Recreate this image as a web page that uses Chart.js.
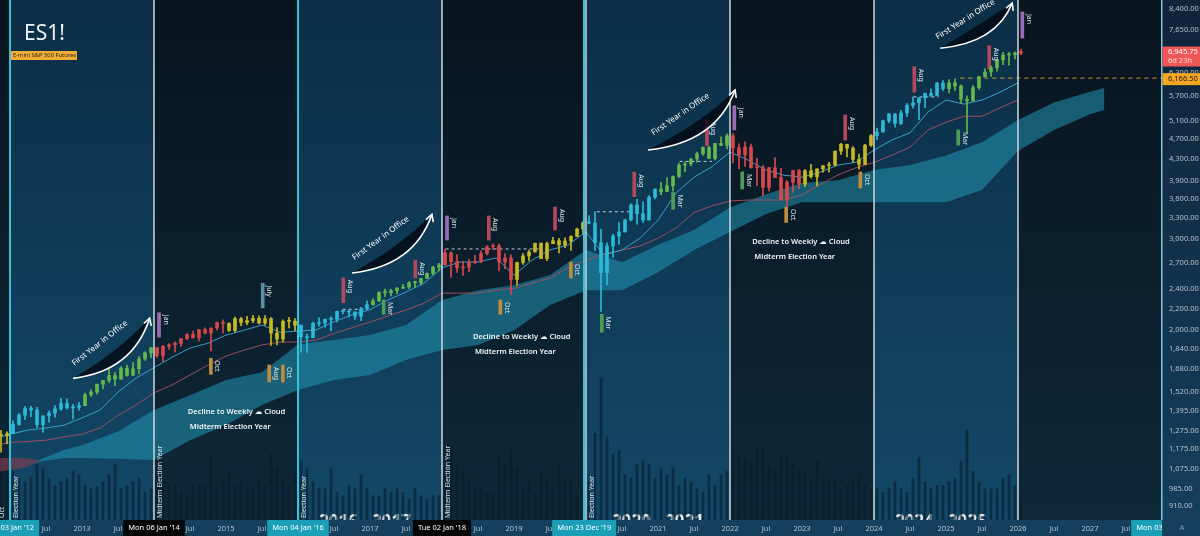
<!DOCTYPE html>
<html>
<head>
<meta charset="utf-8">
<title>ES1! presidential cycle</title>
<script src="https://cdn.jsdelivr.net/npm/chart.js@4.4.1/dist/chart.umd.min.js"></script>
<style>
  html, body { margin: 0; padding: 0; background: #0b1a27; overflow: hidden; }
  canvas { display: block; }
</style>
</head>
<body>
<canvas id="chart" width="1200" height="536"></canvas>
<script>
// monthly candles, Nov 2011 .. Jan 2026 (open = previous close)
const firstOpen = 1251;
const closes = [
  1247, 1258,
  1312, 1366, 1408, 1398, 1310, 1362, 1379, 1406, 1441, 1412, 1416, 1426,
  1498, 1515, 1569, 1597, 1631, 1606, 1686, 1633, 1682, 1757, 1806, 1848,
  1783, 1859, 1872, 1884, 1924, 1960, 1931, 2003, 1972, 2018, 2067, 2059,
  1995, 2104, 2068, 2086, 2107, 2063, 2104, 1972, 1920, 2079, 2080, 2044,
  1940, 1932, 2060, 2065, 2097, 2099, 2174, 2171, 2168, 2126, 2199, 2239,
  2279, 2364, 2363, 2384, 2412, 2423, 2470, 2471, 2519, 2575, 2648, 2674,
  2824, 2714, 2641, 2648, 2705, 2718, 2816, 2902, 2914, 2712, 2760, 2507,
  2704, 2785, 2834, 2946, 2752, 2942, 2982, 2926, 2977, 3038, 3141, 3231,
  3226, 2954, 2585, 2912, 3044, 3100, 3271, 3500, 3363, 3270, 3621, 3756,
  3714, 3811, 3972, 4181, 4204, 4297, 4395, 4523, 4308, 4605, 4567, 4766,
  4516, 4374, 4530, 4132, 4132, 3785, 4130, 3955, 3586, 3872, 4080, 3840,
  4077, 3970, 4109, 4169, 4180, 4450, 4589, 4508, 4288, 4194, 4568, 4770,
  4846, 5096, 5254, 5036, 5278, 5460, 5522, 5648, 5762, 5705, 6032, 5882,
  6040, 5955, 5612, 5569, 5912, 6205, 6339, 6460, 6688, 6840, 6849, 6900,
  6945.75
];
const highs = [
  1277, 1269,
  1333, 1378, 1420, 1422, 1415, 1363, 1392, 1426, 1474, 1470, 1434, 1448,
  1509, 1530, 1570, 1597, 1687, 1654, 1698, 1709, 1730, 1775, 1813, 1849,
  1850, 1867, 1883, 1897, 1924, 1968, 1991, 2005, 2019, 2018, 2075, 2093,
  2064, 2119, 2117, 2125, 2135, 2130, 2132, 2113, 2021, 2094, 2116, 2104,
  2044, 1963, 2072, 2111, 2103, 2120, 2177, 2194, 2188, 2169, 2214, 2278,
  2301, 2371, 2401, 2398, 2418, 2454, 2484, 2490, 2519, 2582, 2657, 2694,
  2873, 2836, 2801, 2718, 2742, 2791, 2848, 2916, 2941, 2940, 2815, 2800,
  2708, 2813, 2860, 2949, 2954, 2964, 3027, 3014, 3021, 3050, 3154, 3248,
  3337, 3393, 3136, 2954, 3068, 3233, 3280, 3514, 3588, 3549, 3646, 3760,
  3870, 3950, 3983, 4218, 4238, 4302, 4429, 4537, 4546, 4608, 4743, 4808,
  4818, 4595, 4637, 4593, 4307, 4177, 4140, 4325, 4119, 3905, 4080, 4101,
  4095, 4195, 4110, 4170, 4231, 4448, 4607, 4589, 4541, 4393, 4587, 4793,
  4931, 5111, 5265, 5264, 5341, 5506, 5670, 5651, 5767, 5878, 6053, 6100,
  6128, 6147, 5986, 5696, 5968, 6215, 6427, 6508, 6699, 6920, 6920, 6940,
  7020
];
const lows = [
  1158, 1202,
  1258, 1306, 1340, 1357, 1291, 1266, 1325, 1354, 1396, 1403, 1343, 1398,
  1426, 1485, 1501, 1536, 1581, 1560, 1605, 1627, 1633, 1646, 1746, 1768,
  1770, 1737, 1834, 1814, 1859, 1915, 1930, 1905, 1964, 1821, 2001, 1972,
  1988, 1980, 2039, 2048, 2067, 2056, 2044, 1867, 1871, 1893, 2019, 1993,
  1812, 1810, 1932, 2034, 2025, 1991, 2074, 2148, 2120, 2097, 2084, 2187,
  2234, 2271, 2322, 2328, 2353, 2405, 2407, 2417, 2446, 2520, 2557, 2605,
  2674, 2529, 2586, 2553, 2594, 2691, 2699, 2796, 2864, 2603, 2631, 2346,
  2443, 2681, 2722, 2834, 2750, 2728, 2942, 2822, 2891, 2855, 3038, 3070,
  3214, 2855, 2174, 2447, 2767, 2936, 3100, 3258, 3209, 3233, 3270, 3594,
  3662, 3714, 3723, 3955, 4056, 4164, 4233, 4367, 4306, 4279, 4560, 4495,
  4222, 4115, 4157, 4124, 3811, 3637, 3721, 3955, 3584, 3491, 3699, 3764,
  3794, 3943, 3808, 4049, 4048, 4166, 4385, 4335, 4238, 4104, 4187, 4546,
  4683, 4845, 5056, 4953, 5011, 5192, 5390, 5120, 5403, 5675, 5697, 5832,
  5773, 5837, 5505, 4835, 5569, 5861, 6201, 6212, 6360, 6552, 6538, 6720,
  6850
];
// relative weekly volume (hidden axis 0..300)
const volumes = [
  38, 30,
  28, 24, 22, 25, 32, 30, 24, 20, 22, 24, 28, 26,
  20, 18, 19, 22, 26, 32, 18, 20, 22, 24, 16, 18,
  26, 22, 20, 20, 16, 15, 20, 20, 20, 36, 18, 24,
  28, 20, 22, 18, 17, 24, 20, 38, 30, 24, 20, 26,
  34, 30, 22, 18, 18, 30, 16, 14, 20, 18, 26, 18,
  14, 14, 18, 16, 18, 16, 12, 18, 14, 12, 14, 14,
  26, 42, 32, 28, 22, 20, 18, 16, 16, 36, 32, 40,
  30, 20, 24, 16, 28, 24, 18, 32, 22, 22, 14, 18,
  22, 50, 82, 48, 38, 40, 26, 24, 32, 34, 32, 24,
  30, 26, 30, 20, 24, 22, 18, 16, 26, 20, 26, 28,
  40, 38, 36, 34, 40, 42, 30, 28, 38, 36, 32, 30,
  28, 24, 34, 22, 24, 22, 18, 20, 22, 26, 20, 18,
  18, 16, 18, 22, 18, 16, 24, 36, 22, 18, 20, 20,
  22, 24, 34, 52, 28, 22, 18, 18, 18, 24, 26, 20,
  12
];

// moving averages, read quarterly
const maTimes = [2011.875,
  2012, 2012.25, 2012.5, 2012.75, 2013, 2013.25, 2013.5, 2013.75,
  2014, 2014.25, 2014.5, 2014.75, 2015, 2015.25, 2015.5, 2015.75,
  2016, 2016.25, 2016.5, 2016.75, 2017, 2017.25, 2017.5, 2017.75,
  2018, 2018.25, 2018.5, 2018.75, 2019, 2019.25, 2019.5, 2019.75,
  2020, 2020.25, 2020.5, 2020.75, 2021, 2021.25, 2021.5, 2021.75,
  2022, 2022.25, 2022.5, 2022.75, 2023, 2023.25, 2023.5, 2023.75,
  2024, 2024.25, 2024.5, 2024.75, 2025, 2025.25, 2025.5, 2025.75, 2026];
const fastMA = [1240,
  1255, 1278, 1290, 1307, 1350, 1398, 1515, 1613,
  1690, 1770, 1845, 1885, 1955, 1998, 2045, 1980,
  1990, 2000, 2075, 2140, 2190, 2287, 2370, 2465,
  2640, 2710, 2710, 2760, 2555, 2733, 2860, 2925,
  3100, 2795, 2860, 3015, 3267, 3690, 3960, 4150,
  4430, 4276, 4089, 3995, 3960, 4050, 4180, 4235,
  4471, 4676, 4830, 5300, 5593, 5490, 5593, 5790, 6040];
const slowMA = [1200,
  1210, 1215, 1222, 1240, 1255, 1290, 1365, 1430,
  1510, 1564, 1635, 1710, 1780, 1828, 1870, 1895,
  1895, 1912, 1970, 2020, 2072, 2130, 2187, 2255,
  2358, 2358, 2358, 2390, 2410, 2465, 2523, 2640,
  2733, 2810, 2860, 2910, 3015, 3155, 3380, 3485,
  3560, 3575, 3575, 3575, 3660, 3830, 4000, 4130,
  4230, 4370, 4530, 4890, 5065, 5200, 5200, 5400, 5593];

// weekly cloud, read half-yearly
const cloudTimes = [2012.4, 2012.75, 2013, 2013.5, 2014, 2014.5, 2015, 2015.5, 2016, 2016.5,
  2017, 2017.5, 2018, 2018.5, 2019, 2019.5, 2020, 2020.5, 2021, 2021.5, 2022, 2022.5,
  2023, 2023.5, 2024, 2024.5, 2025, 2025.5, 2026, 2026.5, 2027, 2027.2];
const cloudTop = [1118, 1169, 1195, 1270, 1398, 1494, 1599, 1655, 1875, 1912,
  1955, 2044, 2287, 2390, 2444, 2556, 2859, 2707, 2925, 3127, 3460, 3670,
  3860, 3908, 4090, 4180, 4365, 4630, 5114, 5530, 5800, 5900];
const cloudBottom = [1110, 1128, 1128, 1125, 1118, 1222, 1308, 1430, 1529, 1599,
  1635, 1748, 1828, 1870, 1998, 2236, 2390, 2390, 2590, 2859, 3100, 3360,
  3540, 3540, 3540, 3540, 3540, 3739, 4452, 4890, 5250, 5345];
const bearCloudTimes = [2011.86, 2012.2, 2012.4];
const bearCloudTop = [1128, 1128, 1118];
const bearCloudBottom = [1062, 1080, 1110];

// month call-outs
const markerTimes = [2014.07, 2014.79, 2015.51, 2015.60, 2015.79, 2016.63, 2017.19, 2017.63, 2018.07,
  2018.65, 2018.81, 2019.57, 2019.79, 2020.22, 2020.67, 2021.21, 2021.68, 2022.06, 2022.17,
  2022.78, 2023.60, 2023.81, 2024.56, 2025.17, 2025.60, 2026.06];
const markerHigh = [2160, 1763, 2465, 1710, 1710, 2525, 2287, 2733, 3330, 3330, 2287, 3466, 2710,
  2145, 4050, 3700, 5114, 5450, 4055, 3466, 5230, 4055, 6490, 4890, 7130, 8290];
const markerLow = [1937, 1640, 2207, 1585, 1585, 2260, 2145, 2523, 2990, 2990, 2145, 3127, 2523,
  1980, 3630, 3430, 4560, 4890, 3757, 3235, 4676, 3773, 5790, 4570, 6430, 7380];
const markerLabels = ['Jan', 'Oct', 'July', 'Aug', 'Oct', 'Aug', 'Mar', 'Aug', 'Jan', 'Aug', 'Oct', 'Aug', 'Oct',
  'Mar', 'Aug', 'Mar', 'Aug', 'Jan', 'Mar', 'Oct', 'Aug', 'Oct', 'Aug', 'Mar', 'Aug', 'Jan'];
const markerKinds = ['jan', 'oct', 'jul', 'oct', 'oct', 'aug', 'mar', 'aug', 'jan', 'aug', 'oct', 'aug', 'oct',
  'mar', 'aug', 'mar', 'aug', 'jan', 'mar', 'oct', 'aug', 'oct', 'aug', 'mar', 'aug', 'jan'];

// previous-high dashed levels
const prevHighStart = [2016.62, 2018.05, 2020.15, 2021.30, 2024.55];
const prevHighEnd = [2016.95, 2019.35, 2020.65, 2021.75, 2024.90];
const prevHighPrice = [2194, 2873, 3393, 4250, 5670];
const levelPrice = 6166.5;
const levelStart = 2025.2;
const lastPrice = 6945.75;

// "First Year in Office" arrows (start / end in time, price)
const fyStartT = [2012.875, 2016.75, 2020.86, 2024.92];
const fyStartP = [1611, 2580, 4471, 7050];
const fyEndT = [2013.94, 2017.86, 2022.07, 2025.92];
const fyEndP = [2110, 3355, 5848, 8630];

// midterm notes
const noteTimes = [2014.47, 2018.43, 2022.31];
const notePrices = [1390, 1936, 2960];

// cycle bands and labels
const lightBands = [[2012, 2014], [2016, 2018], [2020, 2022], [2024, 2026]];
const cyanLines = [2012, 2016, 2019.975];
const whiteLines = [2014, 2018, 2020, 2022, 2024, 2026];
const cycleLabelTimes = [2011.8, 2012, 2014, 2016, 2018, 2020];
const cycleLabelTexts = ['Oct', 'Election Year', 'Midterm Election Year', 'Election Year', 'Midterm Election Year', 'Election Year'];
const watermarkTimes = [2016.93, 2021.0, 2024.93];
const watermarkTexts = ['2016 - 2017', '2020 - 2021', '2024 - 2025'];

// axis ticks
const yTickValues = [910, 985, 1075, 1175, 1275, 1395, 1520, 1680, 1840, 2000, 2200, 2400, 2700,
  3000, 3300, 3600, 3900, 4300, 4700, 5100, 5700, 6300, 7650, 8400];
const xTickValues = [2012, 2012.5, 2013, 2013.5, 2014, 2014.5, 2015, 2015.5, 2016, 2016.5, 2017, 2017.5,
  2018, 2018.5, 2019, 2019.5, 2020, 2020.5, 2021, 2021.5, 2022, 2022.5, 2023, 2023.5,
  2024, 2024.5, 2025, 2025.5, 2026, 2026.5, 2027, 2027.5];
const xTickLabels = ['', 'Jul', '2013', 'Jul', '', 'Jul', '2015', 'Jul', '', 'Jul', '2017', 'Jul',
  '', 'Jul', '2019', 'Jul', '', 'Jul', '2021', 'Jul', '2022', 'Jul', '2023', 'Jul',
  '2024', 'Jul', '2025', 'Jul', '2026', 'Jul', '2027', 'Jul'];
const timeFlagTimes = [2012, 2014, 2016, 2018, 2019.975, 2028];
const timeFlagTexts = ["Tue 03 Jan '12", "Mon 06 Jan '14", "Mon 04 Jan '16", "Tue 02 Jan '18", "Mon 23 Dec '19", "Mon 03 Jan '28"];
const timeFlagDark = [false, true, false, true, false, false];

const X_MIN = 2011.861, X_MAX = 2028.0;
const Y_MIN = 855.2, Y_MAX = 8745;
const FONT = '"Noto Sans", "DejaVu Sans", sans-serif';

const cycleColors = ['#2cbad8', '#63b94c', '#d9474b', '#c8b922'];
const markerColors = { jan: '#9b6bb5', oct: '#bf8b3c', jul: '#5b8ea8', aug: '#b3485c', mar: '#4f9c57' };

const times = closes.map((_, i) => 2011 + (10 + i + 0.5) / 12);
const opens = closes.map((c, i) => (i === 0 ? firstOpen : closes[i - 1]));
const candleColor = t => cycleColors[Math.floor(t) % 4];

function rotText(ctx, text, x, y, angle, align, baseline) {
  ctx.save();
  ctx.translate(x, y);
  ctx.rotate(angle);
  ctx.textAlign = align;
  ctx.textBaseline = baseline;
  ctx.fillText(text, 0, 0);
  ctx.restore();
}

function firstYearArrow(ctx, sx, sy, ex, ey) {
  const dx = ex - sx, dy = ey - sy, len = Math.hypot(dx, dy);
  const ux = dx / len, uy = dy / len;
  const nx = uy, ny = -ux;            // points up-left, away from the swoosh
  const cx = sx + 0.78 * dx, cy = sy + 0.12 * dy;
  // dark crescent under the text
  ctx.beginPath();
  ctx.moveTo(sx, sy);
  ctx.quadraticCurveTo(cx, cy, ex, ey);
  ctx.quadraticCurveTo(cx + nx * 24, cy + ny * 24, sx, sy);
  ctx.fillStyle = 'rgba(3,9,16,0.8)';
  ctx.fill();
  // swoosh
  ctx.beginPath();
  ctx.moveTo(sx, sy);
  ctx.quadraticCurveTo(cx, cy, ex, ey);
  ctx.strokeStyle = '#ffffff';
  ctx.lineWidth = 1.6;
  ctx.stroke();
  const ang = Math.atan2(ey - cy, ex - cx);
  ctx.beginPath();
  ctx.moveTo(ex - 8 * Math.cos(ang - 0.5), ey - 8 * Math.sin(ang - 0.5));
  ctx.lineTo(ex, ey);
  ctx.lineTo(ex - 8 * Math.cos(ang + 0.5), ey - 8 * Math.sin(ang + 0.5));
  ctx.stroke();
  // label
  const mx = (sx + ex) / 2 - 6 * ux + 11 * nx, my = (sy + ey) / 2 - 6 * uy + 11 * ny;
  ctx.fillStyle = '#ffffff';
  ctx.font = `8px ${FONT}`;
  rotText(ctx, 'First Year in Office', mx, my, Math.atan2(dy, dx), 'center', 'middle');
}

const decor = {
  id: 'decor',
  beforeDraw(chart) {
    const { ctx, chartArea: a, scales: { x } } = chart;
    ctx.save();
    let g = ctx.createLinearGradient(0, a.top, 0, a.bottom);
    g.addColorStop(0, '#08141e');
    g.addColorStop(1, '#0e2839');
    ctx.fillStyle = g;
    ctx.fillRect(a.left, a.top, a.right - a.left, a.bottom - a.top);
    g = ctx.createLinearGradient(0, a.top, 0, a.bottom);
    g.addColorStop(0, '#0c2e46');
    g.addColorStop(1, '#124867');
    ctx.fillStyle = g;
    lightBands.forEach(([s, e]) => {
      const x0 = x.getPixelForValue(s), x1 = x.getPixelForValue(e);
      ctx.fillRect(x0, a.top, x1 - x0, a.bottom - a.top);
    });
    // big year watermarks, mostly hidden behind the time axis
    ctx.fillStyle = 'rgba(255,255,255,0.92)';
    ctx.font = `bold 17px ${FONT}`;
    ctx.textAlign = 'center';
    ctx.textBaseline = 'alphabetic';
    watermarkTimes.forEach((t, i) => ctx.fillText(watermarkTexts[i], x.getPixelForValue(t), a.bottom + 7));
    // axis backgrounds
    ctx.fillStyle = '#15405d';
    ctx.fillRect(0, a.bottom, chart.width, chart.height - a.bottom);
    g = ctx.createLinearGradient(0, 0, 0, a.bottom);
    g.addColorStop(0, '#10243a');
    g.addColorStop(1, '#163e5a');
    ctx.fillStyle = g;
    ctx.fillRect(a.right, 0, chart.width - a.right, a.bottom);
    ctx.restore();
  },
  afterDatasetsDraw(chart) {
    const { ctx, chartArea: a, scales: { x, y } } = chart;
    ctx.save();
    whiteLines.forEach(t => {
      ctx.fillStyle = '#cdd6dd';
      ctx.fillRect(Math.round(x.getPixelForValue(t)) - 0.75, a.top, 1.5, a.bottom - a.top);
    });
    cyanLines.forEach(t => {
      ctx.fillStyle = '#37c2da';
      ctx.fillRect(Math.round(x.getPixelForValue(t)) - 1, a.top, 2, a.bottom - a.top);
    });
    ctx.fillStyle = '#dde6ed';
    ctx.font = `7px ${FONT}`;
    cycleLabelTimes.forEach((t, i) =>
      rotText(ctx, cycleLabelTexts[i], x.getPixelForValue(t) + 2.5, a.bottom - 2, -Math.PI / 2, 'left', 'top'));
    markerTimes.forEach((t, i) =>
      rotText(ctx, markerLabels[i], x.getPixelForValue(t) + 3, y.getPixelForValue(markerHigh[i]) + 2, Math.PI / 2, 'left', 'bottom'));
    fyStartT.forEach((t, i) =>
      firstYearArrow(ctx, x.getPixelForValue(t), y.getPixelForValue(fyStartP[i]),
        x.getPixelForValue(fyEndT[i]), y.getPixelForValue(fyEndP[i])));
    ctx.fillStyle = '#f2f5f8';
    ctx.textAlign = 'left';
    ctx.textBaseline = 'middle';
    noteTimes.forEach((t, i) => {
      const px = x.getPixelForValue(t), py = y.getPixelForValue(notePrices[i]);
      ctx.font = `600 7.5px ${FONT}`;
      ctx.fillText('Decline to Weekly \u2601 Cloud', px, py);
      ctx.fillText('Midterm Election Year', px + 2, py + 15);
    });
    ctx.fillStyle = '#7cc7df';
    ctx.fillRect(a.right - 1, 0, 1.5, a.bottom);
    ctx.restore();
  },
  afterDraw(chart) {
    const { ctx, chartArea: a, scales: { x, y } } = chart;
    ctx.save();
    // time flags on the axis
    ctx.beginPath();
    ctx.rect(0, a.bottom, a.right, chart.height - a.bottom);
    ctx.clip();
    ctx.font = `7.5px ${FONT}`;
    ctx.textAlign = 'center';
    ctx.textBaseline = 'middle';
    timeFlagTimes.forEach((t, i) => {
      const px = x.getPixelForValue(t);
      const w = ctx.measureText(timeFlagTexts[i]).width + 10;
      ctx.fillStyle = timeFlagDark[i] ? '#050608' : '#1b9fb6';
      ctx.fillRect(px - w / 2, a.bottom, w, chart.height - a.bottom);
      ctx.fillStyle = '#ffffff';
      ctx.fillText(timeFlagTexts[i], px, a.bottom + 8);
    });
    ctx.restore();
    ctx.save();
    // price flags on the axis
    const pLast = y.getPixelForValue(lastPrice);
    ctx.fillStyle = '#f05656';
    ctx.fillRect(a.right + 0.5, pLast - 5, chart.width - a.right, 20);
    ctx.font = `7.5px ${FONT}`;
    ctx.textAlign = 'left';
    ctx.textBaseline = 'middle';
    ctx.fillStyle = '#ffffff';
    ctx.fillText(lastPrice.toLocaleString('en-US', { minimumFractionDigits: 2 }), a.right + 6, pLast);
    ctx.fillStyle = '#ffd9d9';
    ctx.fillText('6d 23h', a.right + 6, pLast + 9.5);
    const pLevel = y.getPixelForValue(levelPrice);
    ctx.fillStyle = '#f5a623';
    ctx.fillRect(a.right + 0.5, pLevel - 5, chart.width - a.right, 12);
    ctx.fillStyle = '#1b1b1b';
    ctx.fillText(levelPrice.toLocaleString('en-US', { minimumFractionDigits: 2 }), a.right + 6, pLevel + 1);
    ctx.fillStyle = '#8a9aa8';
    ctx.textAlign = 'center';
    ctx.fillText('A', a.right + 20, a.bottom + 8);
    // symbol title
    ctx.textAlign = 'left';
    ctx.textBaseline = 'alphabetic';
    ctx.fillStyle = '#eef3f7';
    ctx.font = `21px ${FONT}`;
    ctx.fillText('ES1!', 24, 40);
    ctx.fillStyle = '#f2ad35';
    ctx.fillRect(11, 51, 66, 9);
    ctx.fillStyle = '#1e1e1e';
    ctx.font = `5.8px ${FONT}`;
    ctx.textBaseline = 'middle';
    ctx.fillText('E-mini S&P 500 Futures', 13, 55.8);
    ctx.restore();
  }
};

const pts = (xs, ys) => xs.map((t, i) => ({ x: t, y: ys[i] }));
const prevHighData = [];
prevHighStart.forEach((s, i) => {
  prevHighData.push({ x: s, y: prevHighPrice[i] }, { x: prevHighEnd[i], y: prevHighPrice[i] }, { x: prevHighEnd[i] + 0.001, y: null });
});

const lineBase = { type: 'line', pointRadius: 0, tension: 0, xAxisID: 'x', yAxisID: 'y' };

new Chart(document.getElementById('chart').getContext('2d'), {
  type: 'bar',
  data: {
    datasets: [
      { type: 'bar', data: pts(times, volumes), xAxisID: 'x', yAxisID: 'yv', backgroundColor: 'rgba(8,26,42,0.6)',
        barThickness: 2, maxBarThickness: 2, grouped: false, order: 20 },
      { ...lineBase, data: pts(cloudTimes, cloudTop), borderWidth: 0, fill: '+1', backgroundColor: 'rgba(34,150,180,0.55)', order: 15 },
      { ...lineBase, data: pts(cloudTimes, cloudBottom), borderWidth: 0, fill: false, order: 15 },
      { ...lineBase, data: pts(bearCloudTimes, bearCloudTop), borderWidth: 0, fill: '+1', backgroundColor: 'rgba(140,62,78,0.6)', order: 15 },
      { ...lineBase, data: pts(bearCloudTimes, bearCloudBottom), borderWidth: 0, fill: false, order: 15 },
      { ...lineBase, data: pts(maTimes, fastMA), borderColor: 'rgba(60,170,215,0.9)', borderWidth: 1, fill: false, order: 6 },
      { ...lineBase, data: pts(maTimes, slowMA), borderColor: 'rgba(170,80,96,0.9)', borderWidth: 1, fill: false, order: 6 },
      { ...lineBase, data: prevHighData, borderColor: 'rgba(225,232,238,0.85)', borderWidth: 1, borderDash: [3, 3], spanGaps: false, fill: false, order: 4 },
      { ...lineBase, data: [{ x: levelStart, y: levelPrice }, { x: X_MAX, y: levelPrice }], borderColor: '#d9962c', borderWidth: 1, borderDash: [4, 4], fill: false, order: 4 },
      { type: 'bar', data: markerTimes.map((t, i) => ({ x: t, y: [markerLow[i], markerHigh[i]] })), xAxisID: 'xm', yAxisID: 'y',
        backgroundColor: markerKinds.map(k => markerColors[k]), barThickness: 3, maxBarThickness: 3, grouped: false, order: 3 },
      { type: 'bar', data: times.map((t, i) => ({ x: t, y: [Math.min(lows[i], opens[i], closes[i]), Math.max(highs[i], opens[i], closes[i])] })),
        xAxisID: 'x', yAxisID: 'y', backgroundColor: times.map(candleColor), barThickness: 1, maxBarThickness: 1, grouped: false, order: 2 },
      { type: 'bar', data: times.map((t, i) => ({ x: t, y: [opens[i], closes[i]] })),
        xAxisID: 'x', yAxisID: 'y', backgroundColor: times.map(candleColor), barThickness: 3, maxBarThickness: 3, minBarLength: 1, grouped: false, order: 1 }
    ]
  },
  options: {
    responsive: false,
    animation: false,
    devicePixelRatio: 1,
    layout: { padding: 0 },
    plugins: { legend: { display: false }, tooltip: { enabled: false } },
    scales: {
      x: {
        type: 'linear', min: X_MIN, max: X_MAX, offset: false, position: 'bottom',
        grid: { display: false, drawTicks: false }, border: { display: false },
        ticks: {
          color: '#b4c0cc', font: { family: FONT, size: 7.5 }, padding: 4,
          autoSkip: false, maxRotation: 0, minRotation: 0,
          callback: v => { const k = xTickValues.indexOf(v); return k < 0 ? '' : xTickLabels[k]; }
        },
        afterBuildTicks: s => { s.ticks = xTickValues.map(v => ({ value: v })); },
        afterFit: s => { s.height = 16; s.paddingLeft = 0; s.paddingRight = 0; }
      },
      xm: { type: 'linear', min: X_MIN, max: X_MAX, offset: false, display: false },
      y: {
        type: 'logarithmic', position: 'right', min: Y_MIN, max: Y_MAX,
        grid: { display: false, drawTicks: false }, border: { display: false },
        ticks: {
          color: '#b4c0cc', font: { family: FONT, size: 7.5 }, padding: 7, autoSkip: false,
          callback: v => Number(v).toLocaleString('en-US', { minimumFractionDigits: 2, maximumFractionDigits: 2 })
        },
        afterBuildTicks: s => { s.ticks = yTickValues.map(v => ({ value: v })); },
        afterFit: s => { s.width = 38; s.paddingTop = 0; s.paddingBottom = 0; }
      },
      yv: { type: 'linear', min: 0, max: 300, display: false }
    }
  },
  plugins: [decor]
});
</script>
</body>
</html>
